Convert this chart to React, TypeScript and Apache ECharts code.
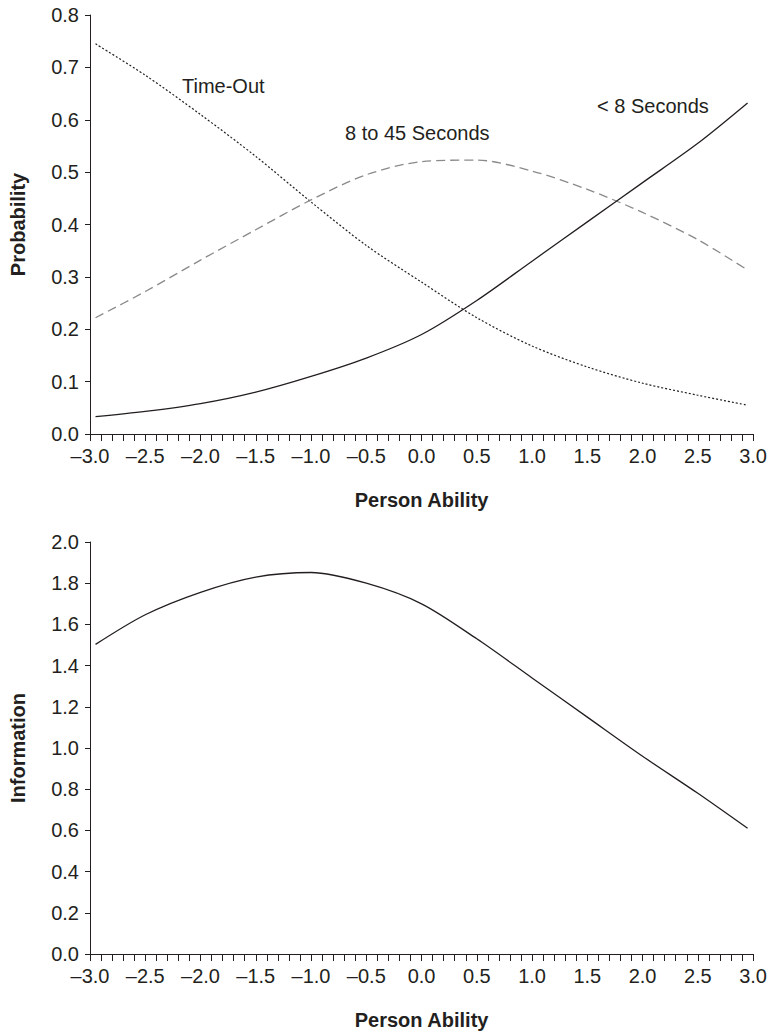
import React, { useEffect, useRef } from "react";
import * as echarts from "echarts";

const abilityX = [-2.95, -2.5, -2.0, -1.5, -1.0, -0.5, 0.0, 0.5, 1.0, 1.5, 2.0, 2.5, 2.95];
const timeOut = [0.745, 0.685, 0.61, 0.53, 0.443, 0.36, 0.29, 0.222, 0.168, 0.128, 0.097, 0.074, 0.055];
const midSeconds = [0.222, 0.272, 0.332, 0.39, 0.447, 0.495, 0.52, 0.523, 0.502, 0.467, 0.423, 0.371, 0.313];
const fastSeconds = [0.033, 0.043, 0.058, 0.08, 0.11, 0.145, 0.19, 0.255, 0.33, 0.405, 0.48, 0.555, 0.632];
const information = [1.503, 1.647, 1.756, 1.83, 1.852, 1.8, 1.7, 1.53, 1.34, 1.15, 0.96, 0.78, 0.61];

const seriesNames = ["Time-Out", "8 to 45 Seconds", "< 8 Seconds"];
const xTitle = "Person Ability";
const yTitleTop = "Probability";
const yTitleBottom = "Information";

const INK = "#231f20";
const FONT = "Liberation Sans, Arial, Helvetica, sans-serif";
const SMOOTH = 0.3;

const pairs = (ys: number[]) => abilityX.map((x, i) => [x, ys[i]]);
const fmtX = (v: number) => (v < -1e-9 ? "\u2013" + Math.abs(v).toFixed(1) : Math.abs(v).toFixed(1));

function xAxisCfg(gridIndex: number) {
  return {
    type: "value",
    gridIndex,
    min: -3,
    max: 3,
    interval: 0.5,
    name: xTitle,
    nameLocation: "middle",
    nameGap: 56,
    nameTextStyle: { fontFamily: FONT, fontSize: 20, fontWeight: "bold", color: INK },
    axisLine: { show: true, onZero: false, lineStyle: { color: INK, width: 1 } },
    axisTick: { show: true, inside: false, length: 7, lineStyle: { color: INK, width: 1 } },
    minorTick: { show: true, splitNumber: 5, length: 7, lineStyle: { color: INK, width: 1 } },
    splitLine: { show: false },
    minorSplitLine: { show: false },
    axisLabel: { fontFamily: FONT, fontSize: 20, color: INK, margin: 12, formatter: fmtX, showMinLabel: true, showMaxLabel: true },
  };
}

function yAxisCfg(gridIndex: number, max: number, interval: number, name: string) {
  return {
    type: "value",
    gridIndex,
    min: 0,
    max,
    interval,
    name,
    nameLocation: "middle",
    nameGap: 62,
    nameRotate: 90,
    nameTextStyle: { fontFamily: FONT, fontSize: 20, fontWeight: "bold", color: INK },
    axisLine: { show: true, onZero: false, lineStyle: { color: INK, width: 1 } },
    axisTick: { show: true, inside: false, length: 5, lineStyle: { color: INK, width: 1 } },
    splitLine: { show: false },
    axisLabel: { fontFamily: FONT, fontSize: 20, color: INK, margin: 11, formatter: (v: number) => v.toFixed(1) },
  };
}

export default function App() {
  const ref = useRef<HTMLDivElement>(null);
  useEffect(() => {
    document.body.style.margin = "0";
    if (!ref.current) return;
    const chart = echarts.init(ref.current, null, { renderer: "svg" });
    chart.setOption({
      animation: false,
      backgroundColor: "#ffffff",
      grid: [
        { left: 83, right: 10, top: 15, height: 419 },
        { left: 83, right: 10, top: 542, height: 419 },
      ],
      xAxis: [xAxisCfg(0), xAxisCfg(1)],
      yAxis: [yAxisCfg(0, 0.8, 0.1, yTitleTop), yAxisCfg(1, 2.0, 0.2, yTitleBottom)],
      series: [
        {
          name: seriesNames[0],
          type: "line",
          xAxisIndex: 0,
          yAxisIndex: 0,
          data: pairs(timeOut),
          smooth: SMOOTH,
          showSymbol: false,
          lineStyle: { color: INK, width: 1.2, type: [2, 2] },
        },
        {
          name: seriesNames[1],
          type: "line",
          xAxisIndex: 0,
          yAxisIndex: 0,
          data: pairs(midSeconds),
          smooth: SMOOTH,
          showSymbol: false,
          lineStyle: { color: "#8a8a8a", width: 1.3, type: [9, 5] },
        },
        {
          name: seriesNames[2],
          type: "line",
          xAxisIndex: 0,
          yAxisIndex: 0,
          data: pairs(fastSeconds),
          smooth: SMOOTH,
          showSymbol: false,
          lineStyle: { color: INK, width: 1.3, type: "solid" },
        },
        {
          name: yTitleBottom,
          type: "line",
          xAxisIndex: 1,
          yAxisIndex: 1,
          data: pairs(information),
          smooth: SMOOTH,
          showSymbol: false,
          lineStyle: { color: INK, width: 1.3, type: "solid" },
        },
      ],
      graphic: [
        { type: "text", left: 182, top: 76, style: { text: seriesNames[0], fontFamily: FONT, fontSize: 20, fill: INK } },
        { type: "text", left: 345, top: 123, style: { text: seriesNames[1], fontFamily: FONT, fontSize: 20, fill: INK } },
        { type: "text", left: 597, top: 96, style: { text: seriesNames[2], fontFamily: FONT, fontSize: 20, fill: INK } },
      ],
    });
    return () => chart.dispose();
  }, []);
  return <div ref={ref} style={{ width: 770, height: 1031 }} />;
}
